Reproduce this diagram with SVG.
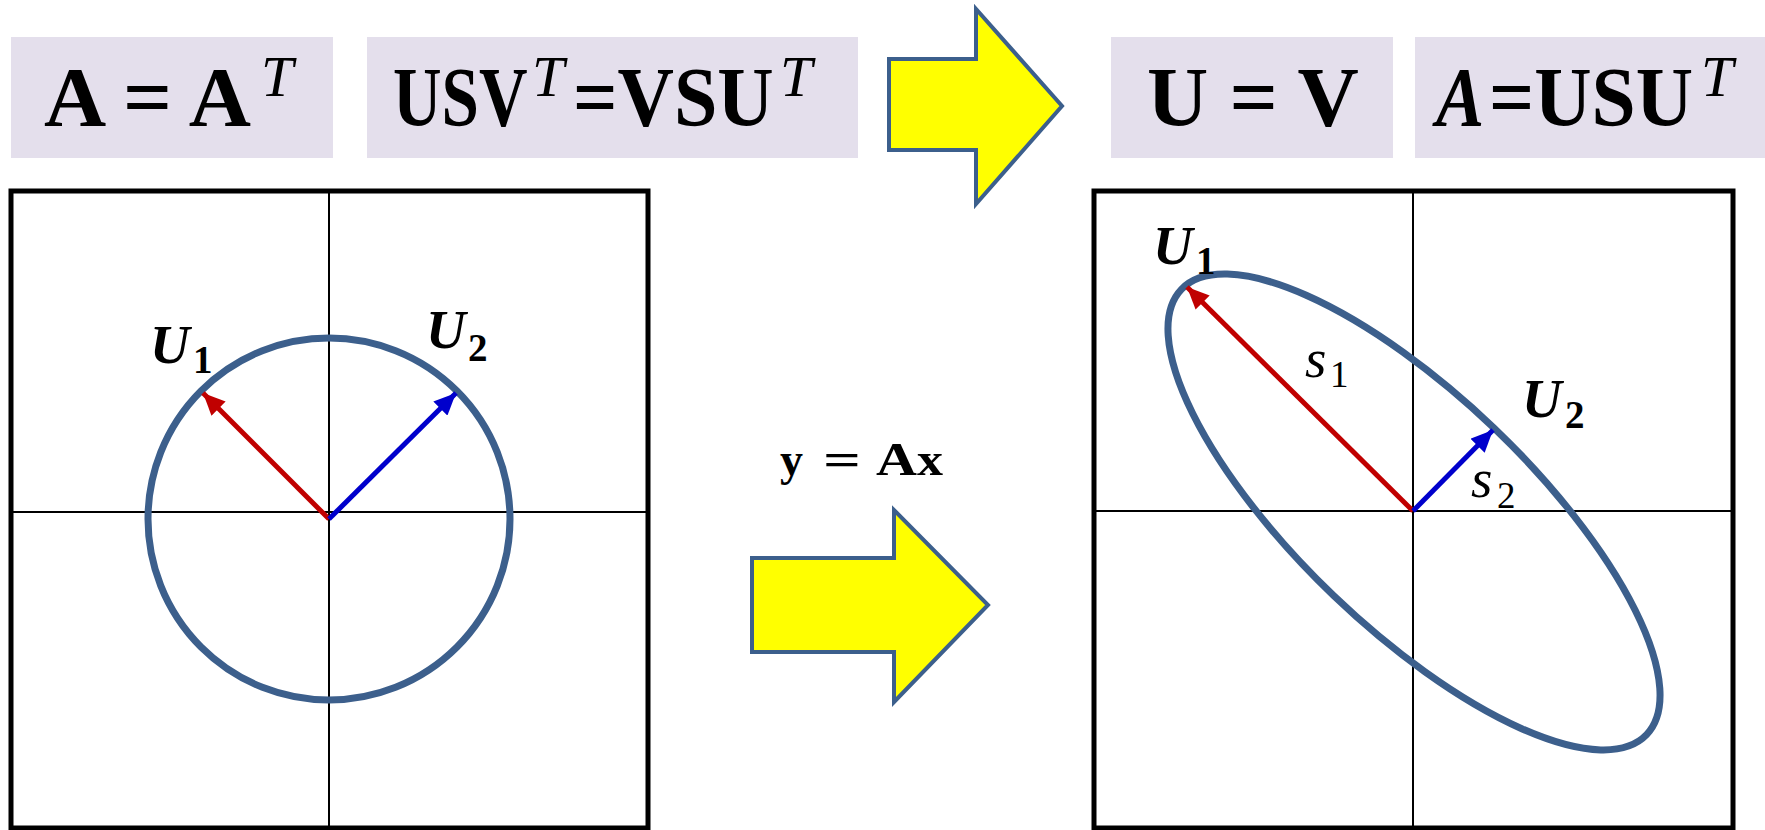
<svg xmlns="http://www.w3.org/2000/svg" width="1765" height="830" viewBox="0 0 1765 830">
<style>
.box{fill:#E4DFEC}
.big{font-family:"Liberation Serif",serif;font-weight:bold;font-size:84px;fill:#000}
.sup{font-family:"Liberation Serif",serif;font-style:italic;font-size:58px;fill:#000}
.frame{fill:none;stroke:#000;stroke-width:5}
.axis{stroke:#000;stroke-width:2}
.curve{fill:none;stroke:#3C5F8C;stroke-width:7}
.bigarrow{fill:#FFFF00;stroke:#3C5F8C;stroke-width:4;stroke-linejoin:miter}
.vred{stroke:#C00000;stroke-width:5}
.vblue{stroke:#0000CC;stroke-width:5}
.lbl{font-family:"Liberation Serif",serif;fill:#000}
.U{font-weight:bold;font-style:italic;font-size:55px}
.Usub{font-weight:bold;font-style:normal;font-size:39px}
.s{font-style:italic;font-size:55px}
.ssub{font-style:normal;font-size:37px}
.eq{font-family:"Liberation Serif",serif;font-weight:bold;font-size:46px}
</style>
<defs>
<marker id="ahRed" markerUnits="userSpaceOnUse" markerWidth="24" markerHeight="20" refX="22" refY="10" orient="auto">
<path d="M0,0 L22,10 L0,20 Z" fill="#C00000"/>
</marker>
<marker id="ahBlue" markerUnits="userSpaceOnUse" markerWidth="24" markerHeight="20" refX="22" refY="10" orient="auto">
<path d="M0,0 L22,10 L0,20 Z" fill="#0000CC"/>
</marker>
</defs>
<rect width="1765" height="830" fill="#fff"/>

<g id="eq1">
<rect class="box" x="11" y="37" width="322" height="121"/>
<text class="big" transform="translate(44,126) scale(1.025,1)">A = A</text>
<text class="sup" x="261" y="96">T</text>
</g>
<g id="eq2">
<rect class="box" x="367" y="37" width="491" height="121"/>
<text class="big" transform="translate(393,126) scale(0.8,1)">USV</text>
<text class="sup" x="532" y="96">T</text>
<text class="big" transform="translate(573,126) scale(0.93,1)">=VSU</text>
<text class="sup" x="780" y="96">T</text>
</g>
<g id="eq3">
<rect class="box" x="1111" y="37" width="282" height="121"/>
<text class="big" transform="translate(1147,126) scale(1.01,1)">U = V</text>
</g>
<g id="eq4">
<rect class="box" x="1415" y="37" width="350" height="121"/>
<text class="big" font-style="italic" transform="translate(1436,126) scale(0.86,1)">A</text>
<text class="big" transform="translate(1489,126) scale(0.945,1)">=USU</text>
<text class="sup" x="1701" y="96">T</text>
</g>

<g id="arrowTop">
<path class="bigarrow" d="M889,59 L976,59 L976,9 L1062,106 L976,204 L976,150 L889,150 Z"/>
</g>
<g id="arrowMid">
<path class="bigarrow" d="M752,558 L894,558 L894,510 L988,605 L894,702 L894,652 L752,652 Z"/>
</g>
<g id="eqYAx">
<text class="eq"><tspan x="780" y="475" textLength="23" lengthAdjust="spacingAndGlyphs">y</tspan><tspan x="823" y="475" textLength="38" lengthAdjust="spacingAndGlyphs">=</tspan><tspan x="876" y="475" textLength="41" lengthAdjust="spacingAndGlyphs">A</tspan><tspan x="917" y="475" textLength="26" lengthAdjust="spacingAndGlyphs">x</tspan></text>
</g>

<g id="panelLeft">
<rect class="frame" x="11" y="191" width="637" height="637"/>
<line class="axis" x1="329" y1="191" x2="329" y2="828"/>
<line class="axis" x1="11" y1="512" x2="648" y2="512"/>
<circle class="curve" cx="329" cy="519" r="181"/>
<text class="lbl"><tspan class="U" x="150" y="363">U</tspan><tspan class="Usub" x="193" y="373">1</tspan></text>
<text class="lbl"><tspan class="U" x="426" y="348">U</tspan><tspan class="Usub" x="468" y="361">2</tspan></text>
</g>

<g id="panelRight">
<rect class="frame" x="1094" y="191" width="639" height="637"/>
<line class="axis" x1="1413" y1="191" x2="1413" y2="828"/>
<line class="axis" x1="1094" y1="511" x2="1733" y2="511"/>
<ellipse class="curve" cx="1414" cy="512" rx="322" ry="116" transform="rotate(43.75 1414 512)"/>
<text class="lbl"><tspan class="U" x="1153" y="264">U</tspan><tspan class="Usub" x="1196" y="274">1</tspan></text>
<text class="lbl"><tspan class="U" x="1522" y="417">U</tspan><tspan class="Usub" x="1565" y="428">2</tspan></text>
<text class="lbl"><tspan class="s" x="1305" y="377">s</tspan><tspan class="ssub" x="1330" y="387">1</tspan></text>
<text class="lbl"><tspan class="s" x="1471" y="497">s</tspan><tspan class="ssub" x="1497" y="508">2</tspan></text>
</g>

<g id="connectors">
<line class="vred" x1="329" y1="519" x2="203" y2="393" marker-end="url(#ahRed)"/>
<line class="vblue" x1="329" y1="519" x2="456" y2="393" marker-end="url(#ahBlue)"/>
<line class="vred" x1="1413" y1="511" x2="1187" y2="287" marker-end="url(#ahRed)"/>
<line class="vblue" x1="1413" y1="511" x2="1493" y2="430" marker-end="url(#ahBlue)"/>
</g>
</svg>
